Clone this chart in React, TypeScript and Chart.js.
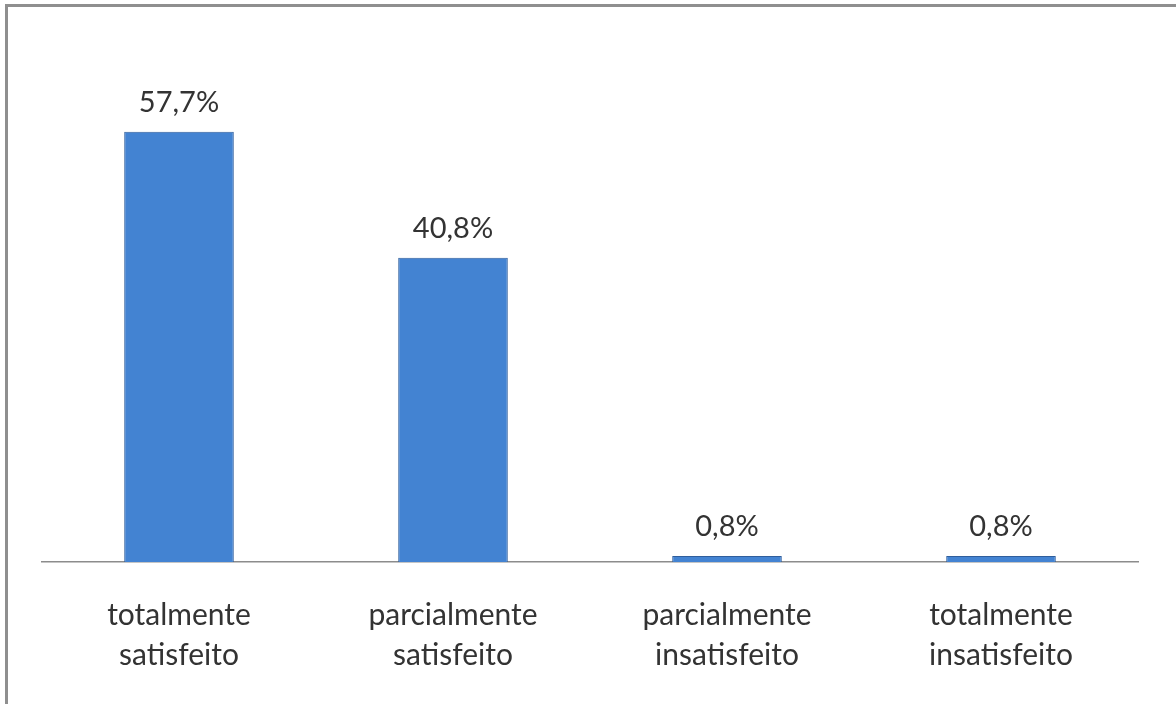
import React, { useEffect, useRef } from "react";
import { Chart, registerables } from "chart.js";

Chart.register(...registerables);

const categories: string[][] = [
  ["totalmente", "satisfeito"],
  ["parcialmente", "satisfeito"],
  ["parcialmente", "insatisfeito"],
  ["totalmente", "insatisfeito"],
];
const values: number[] = [57.7, 40.8, 0.8, 0.8];
const valueLabels: string[] = ["57,7%", "40,8%", "0,8%", "0,8%"];

const FONT = "Lato, 'Open Sans', sans-serif";

const valueLabelPlugin = {
  id: "valueLabels",
  afterDatasetsDraw(chart: any) {
    const ctx = chart.ctx;
    const meta = chart.getDatasetMeta(0);
    ctx.save();
    ctx.font = `29px ${FONT}`;
    ctx.fillStyle = "#333333";
    ctx.textAlign = "center";
    ctx.textBaseline = "alphabetic";
    meta.data.forEach((bar: any, i: number) => {
      ctx.fillText(valueLabels[i], bar.x, bar.y - 20);
    });
    ctx.restore();
  },
};

export default function App() {
  const ref = useRef<HTMLCanvasElement>(null);
  useEffect(() => {
    if (!ref.current) return;
    const chart = new Chart(ref.current, {
      type: "bar",
      data: {
        labels: categories,
        datasets: [
          {
            data: values,
            backgroundColor: (c: any) => {
              const el = c.element;
              const ctx = c.chart.ctx;
              if (!el || el.width === undefined) return "#4383d2";
              const x0 = el.x - el.width / 2;
              const x1 = el.x + el.width / 2;
              const g = ctx.createLinearGradient(x0, 0, x1, 0);
              g.addColorStop(0, "#3567ab");
              g.addColorStop(0.1, "#4180cf");
              g.addColorStop(0.5, "#4583d3");
              g.addColorStop(0.9, "#4180cf");
              g.addColorStop(1, "#3567ab");
              return g;
            },
            borderColor: "#2f5e9c",
            borderWidth: 1,
            borderSkipped: "bottom",
            barPercentage: 0.4,
            categoryPercentage: 1,
          },
        ],
      },
      options: {
        animation: false,
        responsive: false,
        maintainAspectRatio: false,
        layout: { padding: { left: 42, right: 38, top: 40, bottom: 0 } },
        plugins: { legend: { display: false }, tooltip: { enabled: false } },
        scales: {
          x: {
            grid: { display: false, drawTicks: false },
            border: { display: true, color: "#8c8c8c", width: 1.5 },
            ticks: {
              color: "#333333",
              font: { family: FONT, size: 30, lineHeight: 40 / 30 },
              padding: 33,
              maxRotation: 0,
              autoSkip: false,
            },
            afterFit: (scale: any) => {
              scale.height = 142;
            },
          },
          y: {
            display: false,
            min: 0,
            max: 70,
          },
        },
      },
      plugins: [valueLabelPlugin],
    });
    return () => chart.destroy();
  }, []);
  return (
    <div
      style={{
        position: "fixed",
        left: 0,
        top: 0,
        width: 1176,
        height: 704,
        background: "#ffffff",
      }}
    >
      <div
        style={{
          position: "absolute",
          left: 5,
          top: 4,
          right: 0,
          bottom: 0,
          borderTop: "3px solid #8f8f8f",
          borderLeft: "3px solid #8f8f8f",
        }}
      />
      <canvas
        ref={ref}
        width={1176}
        height={704}
        style={{ position: "absolute", left: 0, top: 0 }}
      />
    </div>
  );
}
